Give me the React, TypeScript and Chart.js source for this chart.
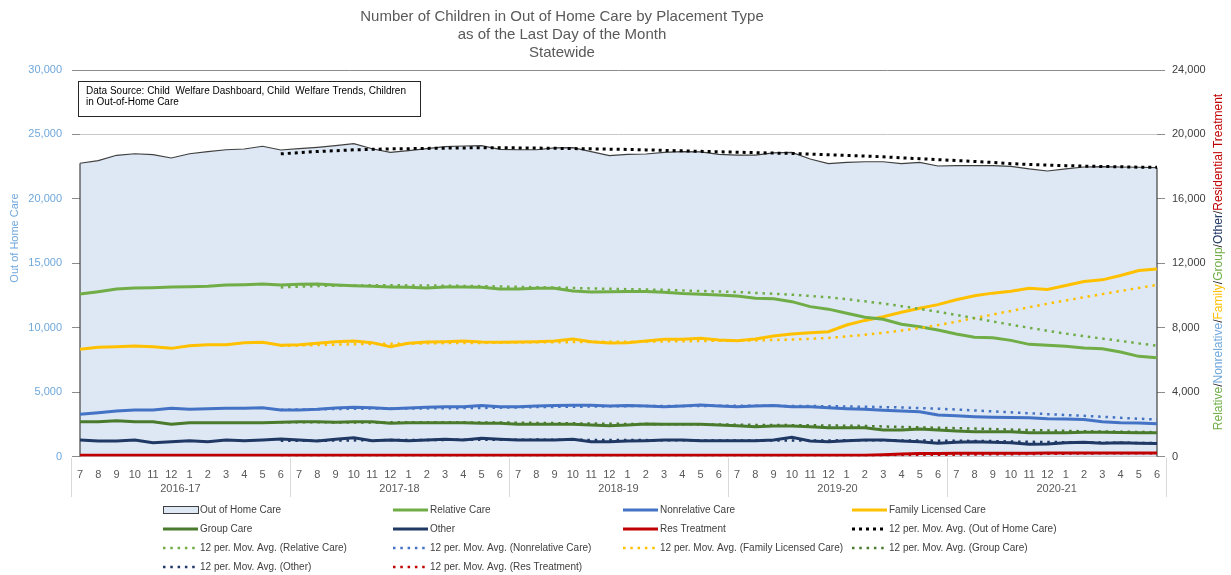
import React, { useEffect, useRef } from 'react';
import { Chart, registerables } from 'chart.js';

Chart.register(...registerables);

const FONT = '"Liberation Sans", Arial, Helvetica, sans-serif';

// ---- categories ----
const fiscalYears = ['2016-17', '2017-18', '2018-19', '2019-20', '2020-21'];
const monthTicks = ['7', '8', '9', '10', '11', '12', '1', '2', '3', '4', '5', '6'];
const periods = fiscalYears.flatMap((fy) => monthTicks.map((m) => `${fy} ${m}`));

// ---- series (left axis) ----
const outOfHomeCare = [
  22760, 22960, 23380, 23500, 23430, 23170, 23500, 23660, 23810, 23870, 24080, 23790,
  23890, 24000, 24130, 24280, 23890, 23610, 23740, 23890, 24050, 24100, 24130, 23840,
  23810, 23810, 23950, 23970, 23660, 23350, 23450, 23480, 23610, 23660, 23640, 23450,
  23400, 23400, 23560, 23610, 23090, 22730, 22830, 22880, 22880, 22730, 22830, 22550,
  22570, 22570, 22570, 22520, 22320, 22160, 22320, 22470, 22500, 22470, 22450, 22420,
];

// ---- series (right axis) ----
const relativeCare = [
  10090, 10235, 10400, 10465, 10485, 10525, 10545, 10570, 10650, 10670, 10710, 10650,
  10690, 10710, 10650, 10610, 10570, 10525, 10505, 10465, 10525, 10525, 10505, 10400,
  10400, 10445, 10445, 10280, 10215, 10235, 10240, 10250, 10200, 10120, 10080, 10030,
  9965, 9820, 9800, 9615, 9305, 9150, 8890, 8650, 8520, 8210, 8060, 7855,
  7605, 7400, 7378, 7212, 6964, 6902, 6840, 6736, 6694, 6487, 6218, 6135,
];
const nonrelativeCare = [
  2620, 2720, 2825, 2890, 2890, 2990, 2930, 2970, 2990, 2990, 3030, 2890,
  2890, 2930, 3010, 3055, 3030, 2970, 3010, 3055, 3095, 3095, 3160, 3095,
  3095, 3135, 3160, 3180, 3180, 3135, 3160, 3135, 3095, 3135, 3200, 3135,
  3095, 3135, 3160, 3095, 3095, 3030, 2970, 2930, 2870, 2825, 2785, 2580,
  2535, 2475, 2440, 2420, 2400, 2340, 2330, 2300, 2160, 2090, 2080, 2030,
];
const familyLicensedCare = [
  6655, 6780, 6820, 6860, 6820, 6715, 6880, 6945, 6945, 7070, 7090, 6905,
  6945, 7030, 7130, 7170, 7070, 6820, 7030, 7110, 7130, 7170, 7110, 7090,
  7110, 7130, 7170, 7295, 7130, 7050, 7070, 7170, 7275, 7275, 7340, 7235,
  7190, 7295, 7480, 7605, 7690, 7750, 8165, 8450, 8680, 8960, 9200, 9430,
  9730, 9980, 10144, 10268, 10454, 10371, 10619, 10866, 10969, 11237, 11546, 11650,
];
const groupCare = [
  2160, 2160, 2225, 2160, 2160, 2000, 2100, 2100, 2100, 2100, 2100, 2120,
  2160, 2160, 2120, 2160, 2160, 2060, 2100, 2100, 2100, 2100, 2060, 2060,
  2000, 2000, 2000, 2000, 1955, 1915, 1955, 2020, 2000, 2000, 2000, 1955,
  1915, 1850, 1895, 1895, 1850, 1790, 1790, 1790, 1645, 1645, 1710, 1645,
  1585, 1540, 1540, 1540, 1480, 1480, 1480, 1500, 1500, 1490, 1480, 1480,
];
const otherCare = [
  1025, 960, 960, 1025, 860, 920, 980, 920, 1025, 980, 1025, 1085,
  1025, 960, 1065, 1170, 980, 1025, 980, 1025, 1065, 1025, 1130, 1065,
  1025, 1025, 1025, 1065, 920, 920, 960, 980, 1025, 1025, 980, 980,
  980, 980, 1025, 1190, 960, 920, 980, 1025, 1025, 960, 920, 820,
  880, 920, 880, 860, 755, 775, 860, 880, 820, 860, 820, 800,
];
const resTreatment = [
  80, 80, 80, 80, 80, 80, 80, 80, 80, 80, 80, 80,
  80, 80, 80, 80, 80, 80, 80, 80, 80, 80, 80, 80,
  80, 80, 80, 80, 80, 80, 80, 80, 80, 80, 80, 80,
  80, 80, 80, 80, 80, 80, 80, 80, 110, 150, 180, 190,
  200, 200, 200, 200, 200, 210, 210, 210, 210, 210, 210, 210,
];

// Excel "12 per. Mov. Avg." trendline period
const trendPeriod = 12;

// ---- axis ticks ----
const leftAxis = { min: 0, max: 30000, step: 5000 };
const rightAxis = { min: 0, max: 24000, step: 4000 };

const titleLines = [
  'Number of Children in Out of Home Care by Placement Type',
  'as of the Last Day of the Month',
  'Statewide',
];
const sourceLines = [
  'Data Source: Child  Welfare Dashboard, Child  Welfare Trends, Children',
  'in Out-of-Home Care',
];
const leftAxisTitle = 'Out of Home Care';
const rightAxisTitleParts: [string, string][] = [
  ['Relative', '#70ad47'],
  ['/', '#262626'],
  ['Nonrelative', '#6fa8dc'],
  ['/', '#262626'],
  ['Family', '#ffc000'],
  ['/', '#262626'],
  ['Group', '#70ad47'],
  ['/', '#262626'],
  ['Other', '#1f3864'],
  ['/', '#262626'],
  ['Residential Treatment', '#c00000'],
];

function trailingMovingAverage(values: number[], period: number): (number | null)[] {
  return values.map((_, i) => {
    if (i < period - 1) return null;
    let s = 0;
    for (let k = i - period + 1; k <= i; k++) s += values[k];
    return s / period;
  });
}

const C = {
  oohcFill: '#dde8f4',
  oohcLine: '#404040',
  relative: '#70ad47',
  nonrelative: '#4472c4',
  family: '#ffc000',
  group: '#4a7b2d',
  other: '#1f3864',
  res: '#c00000',
};

function solid(label: string, data: number[], color: string) {
  return {
    label,
    data,
    borderColor: color,
    backgroundColor: color,
    borderWidth: 3,
    pointRadius: 0,
    fill: false,
    yAxisID: 'y1',
    order: 1,
  };
}

function trend(label: string, data: number[], color: string, axis: string, width = 2.5, dash = [2.5, 4.8]) {
  return {
    label: `12 per. Mov. Avg. (${label})`,
    data: trailingMovingAverage(data, trendPeriod),
    borderColor: color,
    backgroundColor: color,
    borderWidth: width,
    borderDash: dash,
    borderCapStyle: 'butt',
    pointRadius: 0,
    fill: false,
    spanGaps: false,
    yAxisID: axis,
    order: 0,
  };
}

const legendCols = [163, 393, 623, 852];
const legendRows = [510, 529, 548, 567];

const decorPlugin = {
  id: 'decor',
  afterDatasetDraw(chart: any, args: any) {
    if (args.index !== 0) return;
    const ctx = chart.ctx;
    const pts = args.meta.data;
    const y0 = chart.scales.y.getPixelForValue(0);
    ctx.save();
    ctx.strokeStyle = C.oohcLine;
    ctx.lineWidth = 1.2;
    [pts[0], pts[pts.length - 1]].forEach((p: any) => {
      ctx.beginPath();
      ctx.moveTo(p.x, p.y);
      ctx.lineTo(p.x, y0);
      ctx.stroke();
    });
    ctx.restore();
  },
  afterDraw(chart: any) {
    const ctx = chart.ctx;
    const xs = chart.scales.x;
    ctx.save();

    // title
    ctx.fillStyle = '#595959';
    ctx.font = `15px ${FONT}`;
    ctx.textAlign = 'center';
    ctx.textBaseline = 'middle';
    titleLines.forEach((t, i) => ctx.fillText(t, 562, 17 + i * 18));

    // data source box
    ctx.fillStyle = '#ffffff';
    ctx.fillRect(78.5, 81.5, 342, 35);
    ctx.strokeStyle = '#262626';
    ctx.lineWidth = 1;
    ctx.strokeRect(78.5, 81.5, 342, 35);
    ctx.fillStyle = '#000000';
    ctx.font = `10px ${FONT}`;
    ctx.textAlign = 'left';
    sourceLines.forEach((t, i) => ctx.fillText(t, 86, 91 + i * 11));

    // left axis title
    ctx.save();
    ctx.translate(15, 238);
    ctx.rotate(-Math.PI / 2);
    ctx.font = `11px ${FONT}`;
    ctx.fillStyle = '#6fa8dc';
    ctx.textAlign = 'center';
    ctx.fillText(leftAxisTitle, 0, 0);
    ctx.restore();

    // right axis title (multi-coloured)
    ctx.save();
    ctx.translate(1219, 262);
    ctx.rotate(-Math.PI / 2);
    ctx.font = `12px ${FONT}`;
    ctx.textAlign = 'left';
    const total = rightAxisTitleParts.reduce((s, [t]) => s + ctx.measureText(t).width, 0);
    let cx = -total / 2;
    rightAxisTitleParts.forEach(([t, col]) => {
      ctx.fillStyle = col;
      ctx.fillText(t, cx, 0);
      cx += ctx.measureText(t).width;
    });
    ctx.restore();

    // fiscal year groups
    const step = xs.getPixelForValue(1) - xs.getPixelForValue(0);
    ctx.strokeStyle = '#d9d9d9';
    ctx.lineWidth = 1;
    ctx.fillStyle = '#595959';
    ctx.font = `11px ${FONT}`;
    ctx.textAlign = 'center';
    fiscalYears.forEach((fy, k) => {
      const a = xs.getPixelForValue(k * 12);
      const b = xs.getPixelForValue(k * 12 + 11);
      const sep = Math.round(a - step / 2) + 0.5;
      ctx.beginPath();
      ctx.moveTo(sep, 458);
      ctx.lineTo(sep, 497);
      ctx.stroke();
      ctx.fillText(fy, (a + b) / 2, 489);
      if (k === fiscalYears.length - 1) {
        const e = Math.round(b + step / 2) + 0.5;
        ctx.beginPath();
        ctx.moveTo(e, 458);
        ctx.lineTo(e, 497);
        ctx.stroke();
      }
    });

    // legend
    ctx.font = `10px ${FONT}`;
    ctx.textAlign = 'left';
    ctx.textBaseline = 'middle';
    chart.data.datasets.forEach((ds: any, i: number) => {
      const x = legendCols[i % 4];
      const y = legendRows[Math.floor(i / 4)];
      if (i === 0) {
        ctx.fillStyle = C.oohcFill;
        ctx.fillRect(x + 0.5, y - 3.5, 35, 7);
        ctx.strokeStyle = C.oohcLine;
        ctx.lineWidth = 1;
        ctx.strokeRect(x + 0.5, y - 3.5, 35, 7);
      } else {
        ctx.save();
        ctx.strokeStyle = ds.borderColor;
        ctx.lineWidth = ds.borderWidth;
        ctx.setLineDash(ds.borderDash || []);
        ctx.lineCap = 'butt';
        ctx.beginPath();
        ctx.moveTo(x, y);
        ctx.lineTo(x + 35, y);
        ctx.stroke();
        ctx.restore();
      }
      ctx.fillStyle = '#404040';
      ctx.fillText(ds.label, x + 37, y);
    });

    ctx.restore();
  },
};

export default function App() {
  const ref = useRef<HTMLCanvasElement | null>(null);

  useEffect(() => {
    document.body.style.margin = '0';
    document.body.style.overflow = 'hidden';
    if (!ref.current) return;

    const chart = new Chart(ref.current, {
      type: 'line',
      data: {
        labels: periods,
        datasets: [
          {
            label: 'Out of Home Care',
            data: outOfHomeCare,
            borderColor: C.oohcLine,
            backgroundColor: C.oohcFill,
            borderWidth: 1.2,
            pointRadius: 0,
            fill: 'origin',
            yAxisID: 'y',
            order: 2,
          },
          solid('Relative Care', relativeCare, C.relative),
          solid('Nonrelative Care', nonrelativeCare, C.nonrelative),
          solid('Family Licensed Care', familyLicensedCare, C.family),
          solid('Group Care', groupCare, C.group),
          solid('Other', otherCare, C.other),
          solid('Res Treatment', resTreatment, C.res),
          trend('Out of Home Care', outOfHomeCare, '#000000', 'y', 3, [3, 4]),
          trend('Relative Care', relativeCare, C.relative, 'y1'),
          trend('Nonrelative Care', nonrelativeCare, C.nonrelative, 'y1'),
          trend('Family Licensed Care', familyLicensedCare, C.family, 'y1'),
          trend('Group Care', groupCare, C.group, 'y1'),
          trend('Other', otherCare, C.other, 'y1'),
          trend('Res Treatment', resTreatment, C.res, 'y1'),
        ] as any,
      },
      options: {
        animation: false,
        responsive: false,
        devicePixelRatio: 1,
        layout: { padding: { top: 70, left: 0, right: 0, bottom: 0 } },
        plugins: {
          legend: { display: false },
          title: { display: false },
          tooltip: { enabled: false },
        },
        elements: { line: { tension: 0 } },
        scales: {
          x: {
            type: 'category',
            offset: false,
            grid: { display: false },
            border: { display: false },
            ticks: {
              autoSkip: false,
              maxRotation: 0,
              minRotation: 0,
              padding: 4,
              color: '#595959',
              font: { family: FONT, size: 11 },
              callback: (_v: any, i: number) => monthTicks[i % 12],
            },
            afterFit: (s: any) => {
              s.height = 118.5;
            },
          },
          y: {
            position: 'left',
            min: leftAxis.min,
            max: leftAxis.max,
            ticks: {
              stepSize: leftAxis.step,
              color: '#6fa8dc',
              padding: 10,
              font: { family: FONT, size: 11 },
              callback: (v: any) => Number(v).toLocaleString('en-US'),
            },
            grid: {
              color: (c: any) => (c.tick && c.tick.value === leftAxis.max ? '#8c8c8c' : '#c8c8c8'),
              tickColor: '#8c8c8c',
              tickLength: 8,
              lineWidth: 1,
            },
            border: { display: false },
            afterFit: (s: any) => {
              s.width = 80;
            },
          },
          y1: {
            position: 'right',
            min: rightAxis.min,
            max: rightAxis.max,
            ticks: {
              stepSize: rightAxis.step,
              color: '#404040',
              padding: 7,
              font: { family: FONT, size: 11 },
              callback: (v: any) => Number(v).toLocaleString('en-US'),
            },
            grid: {
              drawOnChartArea: false,
              color: '#8c8c8c',
              tickLength: 8,
            },
            border: { display: false },
            afterFit: (s: any) => {
              s.width = 74;
            },
          },
        },
      } as any,
      plugins: [decorPlugin],
    });

    return () => chart.destroy();
  }, []);

  return (
    <div style={{ width: 1231, height: 575 }}>
      <canvas ref={ref} width={1231} height={575} style={{ display: 'block' }} />
    </div>
  );
}
